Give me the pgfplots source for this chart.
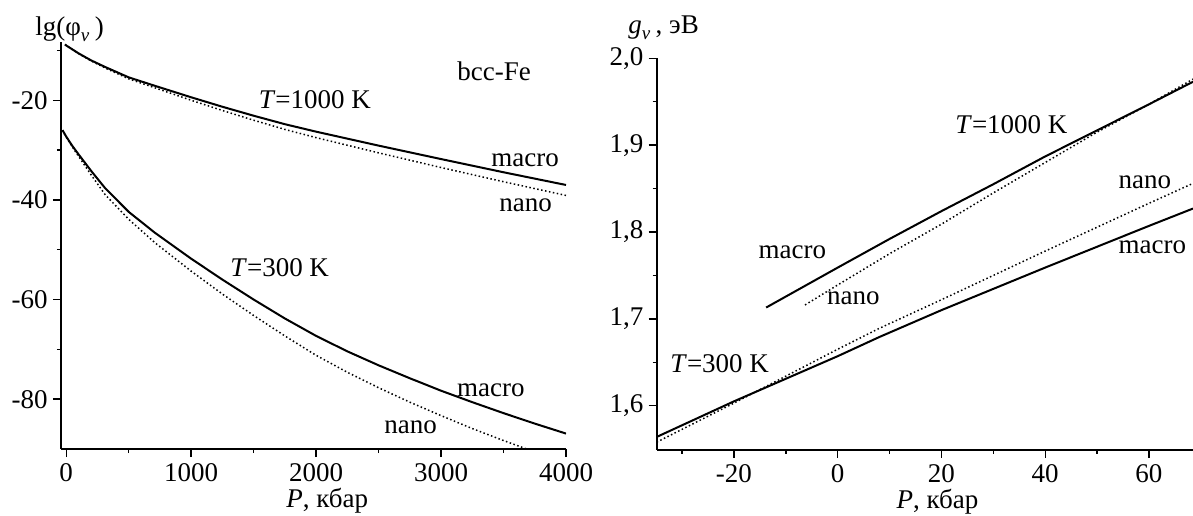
\documentclass[border=0pt]{standalone}
\usepackage{fontspec}
\setmainfont{Liberation Serif}
\usepackage{pgfplots}
\pgfplotsset{compat=1.18}
\newcommand{\fs}{\fontsize{13.5}{16}\selectfont}
\newcommand{\sub}[1]{\raisebox{-0.5ex}{\fontsize{9.5}{10}\selectfont\itshape #1}}
\pgfplotsset{
  mystyle/.style={
    scale only axis,
    axis lines=left,
    axis line style={-, line width=0.8pt},
    tick align=outside,
    major tick length=4pt,
    minor tick length=2pt,
    every tick/.append style={black, line width=0.7pt},
    tick label style={font=\fs},
    xticklabel style={inner ysep=3pt},
    yticklabel style={inner xsep=2.5pt},
    clip mode=individual,
  },
  mac/.style={black, line width=1pt, no marks},
  nan/.style={black, line width=0.75pt, dash pattern=on 0.75pt off 1.25pt, no marks},
}
\begin{document}
\begin{tikzpicture}
\path[use as bounding box] (0,0) rectangle (596.5pt,257.5pt);
\begin{axis}[mystyle, at={(30.5pt,33pt)}, anchor=south west,
  width=252.5pt, height=203.5pt,
  xmin=-42, xmax=4000, ymin=-90, ymax=-8.3,
  xtick={0,1000,2000,3000,4000}, xticklabels={0,1000,2000,3000,4000},
  minor xtick={500,1500,2500,3500},
  ytick={-80,-60,-40,-20}, yticklabels={-80,-60,-40,-20},
  minor ytick={-70,-50,-30,-10},
]
\addplot[mac] table {
-10 -8.8
0 -9.0
100 -10.6
200 -12.0
310 -13.3
500 -15.4
710 -17.1
1000 -19.4
1250 -21.3
1500 -23.1
1750 -24.8
2000 -26.3
2500 -29.1
3000 -31.8
3500 -34.45
4000 -37.0
};
\addplot[nan] table {
-10 -8.8
0 -9.0
100 -10.65
200 -12.1
310 -13.5
500 -15.7
710 -17.5
1000 -20.0
1250 -22.05
1500 -24.0
1750 -25.85
2000 -27.5
2500 -30.55
3000 -33.5
3500 -36.35
4000 -39.1
};
\addplot[mac] table {
-30 -26.0
0 -27.3
50 -29.2
100 -30.9
200 -34.2
310 -37.6
500 -42.4
710 -46.6
1000 -51.8
1250 -56.0
1500 -60.0
1750 -63.8
2000 -67.3
2250 -70.4
2500 -73.2
2750 -75.8
3000 -78.3
3250 -80.6
3500 -82.8
3750 -84.9
4000 -86.9
};
\addplot[nan] table {
-30 -26.0
0 -27.4
50 -29.4
100 -31.3
200 -35.0
310 -38.9
500 -43.9
710 -48.6
1000 -54.3
1250 -58.9
1500 -63.2
1750 -67.3
2000 -71.2
2250 -74.6
2500 -77.7
2750 -80.6
3000 -83.3
3250 -85.9
3500 -88.3
3750 -90.6
};
\node[anchor=base west, font=\fs, inner sep=0pt] at (axis description cs:0.3909,0.8354) {\textit{T}=1000 K};
\node[anchor=base west, font=\fs, inner sep=0pt] at (axis description cs:0.7842,0.9066) {bcc-Fe};
\node[anchor=base west, font=\fs, inner sep=0pt] at (axis description cs:0.8515,0.6937) {macro};
\node[anchor=base west, font=\fs, inner sep=0pt] at (axis description cs:0.8673,0.5831) {nano};
\node[anchor=base west, font=\fs, inner sep=0pt] at (axis description cs:0.3347,0.4234) {\textit{T}=300 K};
\node[anchor=base west, font=\fs, inner sep=0pt] at (axis description cs:0.7835,0.1302) {macro};
\node[anchor=base west, font=\fs, inner sep=0pt] at (axis description cs:0.6396,0.0385) {nano};
\node[anchor=base west, font=\fs, inner sep=0pt] at (axis description cs:-0.0515,1.017) {lg(φ\sub{v}\hspace{0.2em})};
\node[anchor=base, font=\fs, inner sep=0pt] at (axis description cs:0.527,-0.143) {\textit{P}, кбар};
\end{axis}
\begin{axis}[mystyle, at={(328.35pt,32.65pt)}, anchor=south west,
  width=268.15pt, height=195.7pt,
  xmin=-34.9, xmax=68.5, ymin=1.5493, ymax=2.0,
  xtick={-20,0,20,40,60}, xticklabels={-20,0,20,40,60},
  minor xtick={-30,-10,10,30,50},
  ytick={1.6,1.7,1.8,1.9,2.0}, yticklabels={{1,6},{1,7},{1,8},{1,9},{2,0}},
  minor ytick={1.65,1.75,1.85,1.95},
]
\addplot[mac] table {
-34.9 1.564
-20 1.605
0 1.657
8 1.679
20 1.710
40 1.759
60 1.807
68.5 1.827
};
\addplot[nan] table {
-34.9 1.558
-20 1.603
0 1.665
8 1.689
20 1.722
40 1.778
60 1.833
68.5 1.856
};
\addplot[mac] table {
-13.8 1.713
0 1.759
10 1.792
20 1.824
30 1.855
40 1.887
50 1.917
60 1.947
68.5 1.973
};
\addplot[nan] table {
-6.3 1.716
0 1.739
10 1.775
20 1.809
30 1.845
40 1.880
50 1.915
60 1.947
68.5 1.976
};
\node[anchor=base west, font=\fs, inner sep=0pt] at (axis description cs:0.5562,0.8084) {\textit{T}=1000 K};
\node[anchor=base west, font=\fs, inner sep=0pt] at (axis description cs:0.8607,0.6679) {nano};
\node[anchor=base west, font=\fs, inner sep=0pt] at (axis description cs:0.8607,0.5018) {macro};
\node[anchor=base west, font=\fs, inner sep=0pt] at (axis description cs:0.1895,0.4890) {macro};
\node[anchor=base west, font=\fs, inner sep=0pt] at (axis description cs:0.3170,0.3697) {nano};
\node[anchor=base west, font=\fs, inner sep=0pt] at (axis description cs:0.0248,0.1967) {\textit{T}=300 K};
\node[anchor=base west, font=\fs, inner sep=0pt] at (axis description cs:-0.0535,1.0646) {\textit{g}\sub{v}\hspace{0.2em}, эВ};
\node[anchor=base, font=\fs, inner sep=0pt] at (axis description cs:0.5236,-0.149) {\textit{P}, кбар};
\end{axis}
\end{tikzpicture}
\end{document}
